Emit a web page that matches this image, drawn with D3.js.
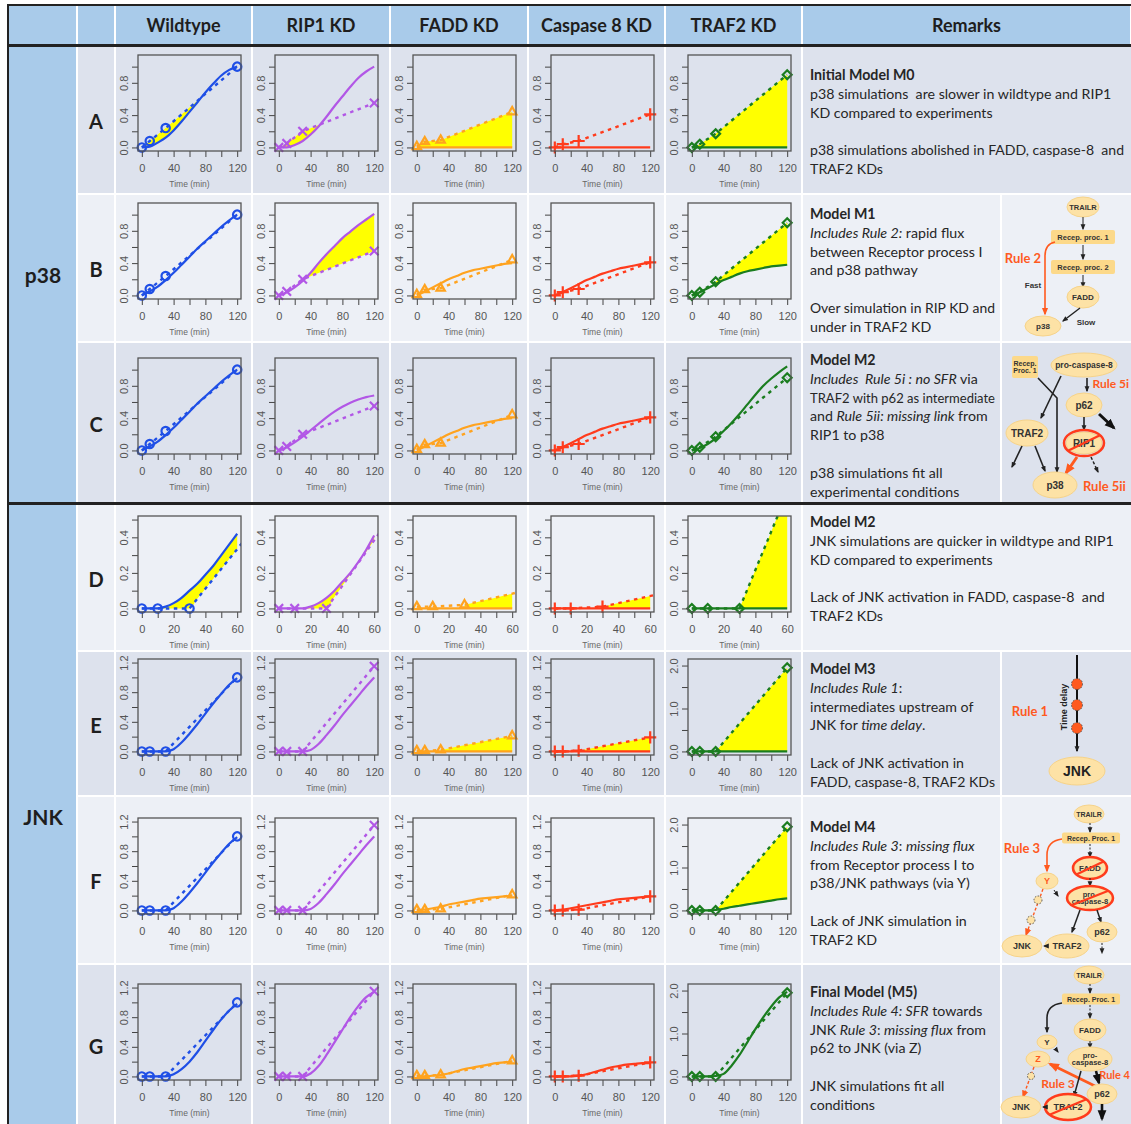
<!DOCTYPE html>
<html>
<head>
<meta charset="utf-8">
<script src="https://cdn.jsdelivr.net/npm/d3@7"></script>
<style>
  body { margin: 0; background: #fff; }
  svg text { font-family: Lato, "Open Sans", sans-serif; }
  .tick text, .tl { font-family: "Liberation Sans", Arial, sans-serif; }
</style>
</head>
<body>
<div id="chart"></div>
<script>
// ---- data ----
const conditions = ["Wildtype", "RIP1 KD", "FADD KD", "Caspase 8 KD", "TRAF2 KD"];
const rowLetters = ["A", "B", "C", "D", "E", "F", "G"];
const groups = ["p38", "JNK"];

const expTimes = [0, 10, 30, 120];
// p38 experiments (rows A-C)
const p38ExpWildtype = [0, 0.08, 0.24, 1.00];
const p38ExpRIP1 = [0, 0.05, 0.20, 0.55];
const p38ExpFADD = [0.01, 0.07, 0.09, 0.44];
const p38ExpCasp8 = [0, 0.04, 0.08, 0.41];
const p38ExpTRAF2 = [0, 0.04, 0.17, 0.90];
// JNK experiments (rows D-G)
const jnkExpWildtype = [0, 0, 0, 1.00];
const jnkExpRIP1 = [0, 0, 0, 1.15];
const jnkExpFADD = [0.01, 0.01, 0.02, 0.21];
const jnkExpCasp8 = [0, 0, 0.01, 0.19];
const jnkExpTRAF2 = [0, 0, 0, 1.95];

const simTimes = [0, 10, 20, 30, 40, 50, 60, 70, 80, 90, 100, 110, 120];
const simTimesEarly = [0, 5, 10, 15, 20, 25, 30, 35, 40, 45, 50, 55, 60];

// simulations: one array per condition (Wildtype, RIP1, FADD, Caspase 8, TRAF2)
const simRowA = [
  [0, 0.01, 0.06, 0.12, 0.21, 0.32, 0.44, 0.56, 0.68, 0.79, 0.89, 0.96, 1.00],
  [0, 0.00, 0.03, 0.08, 0.16, 0.26, 0.38, 0.51, 0.63, 0.75, 0.86, 0.94, 1.00],
  [0, 0, 0, 0, 0, 0, 0, 0, 0, 0, 0, 0, 0],
  [0, 0, 0, 0, 0, 0, 0, 0, 0, 0, 0, 0, 0],
  [0, 0, 0, 0, 0, 0, 0, 0, 0, 0, 0, 0, 0]
];
const simRowB = [
  [0, 0.05, 0.11, 0.19, 0.28, 0.38, 0.48, 0.58, 0.67, 0.76, 0.85, 0.93, 1.00],
  [0, 0.04, 0.10, 0.18, 0.28, 0.40, 0.51, 0.61, 0.71, 0.79, 0.87, 0.94, 1.01],
  [0, 0.05, 0.10, 0.15, 0.20, 0.24, 0.28, 0.31, 0.33, 0.35, 0.37, 0.39, 0.40],
  [0, 0.04, 0.09, 0.14, 0.19, 0.23, 0.27, 0.30, 0.33, 0.35, 0.37, 0.39, 0.41],
  [0, 0.04, 0.09, 0.14, 0.19, 0.23, 0.27, 0.30, 0.32, 0.34, 0.36, 0.37, 0.38]
];
const simRowC = [
  [0, 0.05, 0.11, 0.19, 0.28, 0.38, 0.48, 0.58, 0.67, 0.76, 0.85, 0.93, 1.00],
  [0, 0.04, 0.10, 0.17, 0.25, 0.33, 0.41, 0.48, 0.54, 0.59, 0.63, 0.66, 0.68],
  [0, 0.05, 0.10, 0.15, 0.20, 0.24, 0.28, 0.31, 0.33, 0.35, 0.37, 0.39, 0.40],
  [0, 0.04, 0.09, 0.14, 0.19, 0.23, 0.27, 0.30, 0.33, 0.35, 0.37, 0.39, 0.41],
  [0, 0.03, 0.08, 0.15, 0.24, 0.34, 0.45, 0.57, 0.69, 0.80, 0.89, 0.97, 1.04]
];
const simRowD = [
  [0, 0, 0, 0.01, 0.03, 0.06, 0.10, 0.14, 0.19, 0.24, 0.30, 0.36, 0.42],
  [0, 0, 0, 0, 0.01, 0.03, 0.06, 0.10, 0.15, 0.20, 0.26, 0.33, 0.41],
  [0, 0, 0, 0, 0, 0, 0, 0, 0, 0, 0, 0, 0],
  [0, 0, 0, 0, 0, 0, 0, 0, 0, 0, 0, 0, 0],
  [0, 0, 0, 0, 0, 0, 0, 0, 0, 0, 0, 0, 0]
];
const simRowE = [
  [0, 0, 0, 0, 0.03, 0.12, 0.24, 0.37, 0.51, 0.65, 0.78, 0.90, 0.99],
  [0, 0, 0, 0, 0.02, 0.10, 0.22, 0.35, 0.49, 0.62, 0.75, 0.88, 1.00],
  [0, 0, 0, 0, 0, 0, 0, 0, 0, 0, 0, 0, 0],
  [0, 0, 0, 0, 0, 0, 0, 0, 0, 0, 0, 0, 0],
  [0, 0, 0, 0, 0, 0, 0, 0, 0, 0, 0, 0, 0]
];
const simRowF = [
  [0, 0, 0, 0, 0.03, 0.12, 0.24, 0.37, 0.51, 0.65, 0.78, 0.90, 0.99],
  [0, 0, 0, 0, 0.02, 0.10, 0.22, 0.35, 0.49, 0.62, 0.75, 0.88, 1.00],
  [0, 0.01, 0.03, 0.05, 0.08, 0.10, 0.12, 0.14, 0.16, 0.17, 0.18, 0.19, 0.20],
  [0, 0.01, 0.03, 0.05, 0.07, 0.09, 0.11, 0.13, 0.15, 0.16, 0.17, 0.18, 0.19],
  [0, 0, 0, 0.01, 0.04, 0.08, 0.11, 0.14, 0.17, 0.20, 0.23, 0.26, 0.28]
];
const simRowG = [
  [0, 0, 0, 0, 0.03, 0.10, 0.20, 0.33, 0.48, 0.63, 0.77, 0.89, 0.98],
  [0, 0, 0, 0, 0.04, 0.14, 0.29, 0.46, 0.63, 0.80, 0.95, 1.07, 1.14],
  [0, 0, 0.01, 0.02, 0.04, 0.07, 0.10, 0.12, 0.14, 0.16, 0.18, 0.19, 0.20],
  [0, 0, 0, 0.01, 0.03, 0.06, 0.09, 0.12, 0.14, 0.16, 0.17, 0.18, 0.18],
  [0, 0, 0, 0.01, 0.06, 0.25, 0.50, 0.80, 1.10, 1.38, 1.63, 1.84, 1.97]
];

// time windows where simulation and experiment differ (yellow)
const fillRowA = [[0, 80], [0, 50], [0, 120], null, [0, 120]];
const fillRowB = [null, [30, 120], null, null, [30, 120]];
const fillRowC = [null, null, null, null, null];
const fillRowD = [[10, 60], [15, 60], [30, 60], [30, 60], [30, 60]];
const fillRowE = [null, null, [30, 120], [30, 120], [30, 120]];
const fillRowF = [null, null, null, null, [30, 120]];
const fillRowG = [null, null, null, null, null];

// axes
const xTicks120 = [0, 20, 40, 60, 80, 100, 120];
const xLabels120 = [0, 40, 80, 120];
const xTicks60 = [0, 10, 20, 30, 40, 50, 60];
const xLabels60 = [0, 20, 40, 60];
const p38YTicks = [0, 0.2, 0.4, 0.6, 0.8, 1.0];
const p38YLabels = [0, 0.4, 0.8];
const earlyYTicks = [0, 0.1, 0.2, 0.3, 0.4, 0.5];
const earlyYLabels = [0, 0.2, 0.4];
const jnkYTicks = [0, 0.2, 0.4, 0.6, 0.8, 1.0, 1.2];
const jnkYLabels = [0, 0.4, 0.8, 1.2];
const traf2YTicks = [0, 0.5, 1.0, 1.5, 2.0];
const traf2YLabels = [0, 1.0, 2.0];

// remarks text: [text, style] segments per line
const remarksA = [
  [["Initial Model M0", "b"]],
  [["p38 simulations  are slower in wildtype and RIP1", ""]],
  [["KD compared to experiments", ""]],
  [],
  [["p38 simulations abolished in FADD, caspase-8  and", ""]],
  [["TRAF2 KDs", ""]]
];
const remarksB = [
  [["Model M1", "b"]],
  [["Includes Rule 2:", "i"], [" rapid flux", ""]],
  [["between Receptor process I", ""]],
  [["and p38 pathway", ""]],
  [],
  [["Over simulation in RIP KD and", ""]],
  [["under in TRAF2 KD", ""]]
];
const remarksC = [
  [["Model M2", "b"]],
  [["Includes  Rule 5i : no SFR", "i"], [" via", ""]],
  [["TRAF2 with p62 as intermediate", ""]],
  [["and ", ""], ["Rule 5ii: missing link", "i"], [" from", ""]],
  [["RIP1 to p38", ""]],
  [],
  [["p38 simulations fit all", ""]],
  [["experimental conditions", ""]]
];
const remarksD = [
  [["Model M2", "b"]],
  [["JNK simulations are quicker in wildtype and RIP1", ""]],
  [["KD compared to experiments", ""]],
  [],
  [["Lack of JNK activation in FADD, caspase-8  and", ""]],
  [["TRAF2 KDs", ""]]
];
const remarksE = [
  [["Model M3", "b"]],
  [["Includes Rule 1", "i"], [":", ""]],
  [["intermediates upstream of", ""]],
  [["JNK for ", ""], ["time delay", "i"], [".", ""]],
  [],
  [["Lack of JNK activation in", ""]],
  [["FADD, caspase-8, TRAF2 KDs", ""]]
];
const remarksF = [
  [["Model M4", "b"]],
  [["Includes Rule 3", "i"], [": ", ""], ["missing flux", "i"]],
  [["from Receptor process I to", ""]],
  [["p38/JNK pathways (via Y)", ""]],
  [],
  [["Lack of JNK simulation in", ""]],
  [["TRAF2 KD", ""]]
];
const remarksG = [
  [["Final Model (M5)", "b"]],
  [["Includes Rule 4: SFR", "i"], [" towards", ""]],
  [["JNK ", ""], ["Rule 3", "i"], [": ", ""], ["missing flux", "i"], [" from", ""]],
  [["p62 to JNK (via Z)", ""]],
  [],
  [["JNK simulations fit all", ""]],
  [["conditions", ""]]
];

// ---- layout ----
const W = 1131, H = 1124;
const colEdges = [8, 77, 115, 252, 390, 528, 665, 802, 1131];
const rowBands = [[47, 193], [195, 341], [343, 502], [505, 650], [652, 795], [797, 963], [965, 1124]];
const boxTops = [55, 203, 358, 516, 659, 818, 984];
const boxW = 103, boxH = 96;
const remarkStart = [75, 214, 360, 522, 669, 827, 992];
const hasDiagram = [false, true, true, false, true, true, true];
const darkBg = "#dde2ed", lightBg = "#edf0f6", blueBg = "#a9cbea";
const rowBg = [darkBg, lightBg, darkBg, lightBg, darkBg, lightBg, darkBg];
const colors = ["#1f4fe6", "#b257e6", "#ffa31f", "#ff3b1c", "#1a7d1f"];
const symbols = [d3.symbolCircle, d3.symbolTimes, d3.symbolTriangle2, d3.symbolPlus, d3.symbolDiamond2];

const p38Exp = [p38ExpWildtype, p38ExpRIP1, p38ExpFADD, p38ExpCasp8, p38ExpTRAF2];
const jnkExp = [jnkExpWildtype, jnkExpRIP1, jnkExpFADD, jnkExpCasp8, jnkExpTRAF2];
const rowExp = [p38Exp, p38Exp, p38Exp, jnkExp, jnkExp, jnkExp, jnkExp];
const rowSims = [simRowA, simRowB, simRowC, simRowD, simRowE, simRowF, simRowG];
const rowFills = [fillRowA, fillRowB, fillRowC, fillRowD, fillRowE, fillRowF, fillRowG];
const rowRemarks = [remarksA, remarksB, remarksC, remarksD, remarksE, remarksF, remarksG];

const svg = d3.select("#chart").append("svg")
  .attr("width", W).attr("height", H);

const defs = svg.append("defs");
function addMarker(id, color, size) {
  defs.append("marker").attr("id", id)
    .attr("viewBox", "0 0 10 10").attr("refX", 8).attr("refY", 5)
    .attr("markerWidth", size).attr("markerHeight", size)
    .attr("markerUnits", "userSpaceOnUse").attr("orient", "auto")
    .append("path").attr("d", "M0,1 L10,5 L0,9 z").attr("fill", color);
}
addMarker("ak", "#222", 6);
addMarker("akb", "#111", 11);
addMarker("ao", "#ff5a1f", 8);
addMarker("aob", "#ff5a1f", 11);

// ---- table background ----
const bg = svg.append("g");
function cell(x0, x1, y0, y1, fill) {
  bg.append("rect").attr("x", x0 + 1).attr("y", y0)
    .attr("width", x1 - x0 - 2).attr("height", y1 - y0).attr("fill", fill);
}
// header
for (let i = 0; i < colEdges.length - 1; i++) cell(colEdges[i], colEdges[i + 1], 6, 44, blueBg);
// group column
cell(colEdges[0], colEdges[1], 47, 502, blueBg);
cell(colEdges[0], colEdges[1], 505, 1124, blueBg);
rowBands.forEach((b, ri) => {
  for (let i = 1; i < 7; i++) cell(colEdges[i], colEdges[i + 1], b[0], b[1], rowBg[ri]);
  if (hasDiagram[ri]) {
    cell(802, 1001, b[0], b[1], rowBg[ri]);
    cell(1001, 1140, b[0], b[1], rowBg[ri]);
  } else {
    cell(802, 1140, b[0], b[1], rowBg[ri]);
  }
});
// black rules
bg.append("rect").attr("x", 7).attr("y", 4).attr("width", W).attr("height", 2).attr("fill", "#222");
bg.append("rect").attr("x", 7).attr("y", 4).attr("width", 2).attr("height", H).attr("fill", "#222");
bg.append("rect").attr("x", 7).attr("y", 44).attr("width", W).attr("height", 3).attr("fill", "#222");
bg.append("rect").attr("x", 7).attr("y", 502).attr("width", W).attr("height", 3).attr("fill", "#222");

// header text
conditions.concat(["Remarks"]).forEach((c, i) => {
  svg.append("text")
    .attr("x", (colEdges[i + 2] + colEdges[i + 3]) / 2).attr("y", 26).attr("dy", "0.35em")
    .attr("text-anchor", "middle").attr("font-size", 18).attr("font-weight", 700)
    .attr("fill", "#1e1e1e").text(c);
});
// group + row labels
svg.append("text").attr("x", 43).attr("y", 276).attr("dy", "0.35em")
  .attr("text-anchor", "middle").attr("font-size", 21).attr("font-weight", 700)
  .attr("fill", "#1e1e1e").text(groups[0]);
svg.append("text").attr("x", 43).attr("y", 818).attr("dy", "0.35em")
  .attr("text-anchor", "middle").attr("font-size", 21).attr("font-weight", 700)
  .attr("fill", "#1e1e1e").text(groups[1]);
rowLetters.forEach((l, ri) => {
  svg.append("text").attr("x", 96).attr("y", (rowBands[ri][0] + rowBands[ri][1]) / 2 + 2)
    .attr("dy", "0.35em").attr("text-anchor", "middle").attr("font-size", 20)
    .attr("font-weight", 700).attr("fill", "#1e1e1e").text(l);
});

// ---- panels ----
function interp(ts, vs, t) {
  for (let i = 0; i < ts.length - 1; i++) {
    if (t >= ts[i] && t <= ts[i + 1]) {
      return vs[i] + (vs[i + 1] - vs[i]) * (t - ts[i]) / (ts[i + 1] - ts[i]);
    }
  }
  return vs[vs.length - 1];
}
const has = (arr, v) => arr.some(a => Math.abs(a - v) < 1e-9);

function drawPanel(ri, ci) {
  const early = ri === 3;
  const jnk = ri >= 4;
  const times = early ? simTimesEarly : simTimes;
  const xMax = early ? 60 : 120;
  let yTicks = p38YTicks, yLabels = p38YLabels, yMax = 1.1;
  if (early) { yTicks = earlyYTicks; yLabels = earlyYLabels; yMax = 0.5; }
  if (jnk) {
    if (ci === 4) { yTicks = traf2YTicks; yLabels = traf2YLabels; yMax = 2.07; }
    else { yTicks = jnkYTicks; yLabels = jnkYLabels; yMax = 1.2; }
  }
  const xTicks = early ? xTicks60 : xTicks120;
  const xLabels = early ? xLabels60 : xLabels120;

  const bx = colEdges[ci + 2] + 23, by = boxTops[ri];
  const x = d3.scaleLinear().domain([-0.04 * xMax, 1.04 * xMax]).range([0, boxW]);
  const y = d3.scaleLinear().domain([-0.04 * yMax, 1.04 * yMax]).range([boxH, 0]);
  const color = colors[ci];
  const sim = rowSims[ri][ci];
  const exp = rowExp[ri][ci];
  const fill = rowFills[ri][ci];

  const g = svg.append("g").attr("transform", `translate(${bx},${by})`);
  const clipId = `clip-${ri}-${ci}`;
  defs.append("clipPath").attr("id", clipId)
    .append("rect").attr("width", boxW).attr("height", boxH);
  const inner = g.append("g").attr("clip-path", `url(#${clipId})`);

  if (fill) {
    const pts = times.map((t, i) => ({ t, s: sim[i], e: interp(expTimes, exp, t) }))
      .filter(p => p.t >= fill[0] && p.t <= fill[1]);
    inner.append("path").datum(pts)
      .attr("d", d3.area().x(p => x(p.t)).y0(p => y(p.e)).y1(p => y(p.s)).curve(d3.curveMonotoneX))
      .attr("fill", "#ffff00");
  }
  // experiment (dashed)
  inner.append("path").datum(expTimes.map((t, i) => [t, exp[i]]))
    .attr("d", d3.line().x(d => x(d[0])).y(d => y(d[1])))
    .attr("fill", "none").attr("stroke", color).attr("stroke-width", 2.4)
    .attr("stroke-dasharray", "3.5,4.5");
  // simulation (solid)
  inner.append("path").datum(times.map((t, i) => [t, sim[i]]))
    .attr("d", d3.line().x(d => x(d[0])).y(d => y(d[1])).curve(d3.curveMonotoneX))
    .attr("fill", "none").attr("stroke", color).attr("stroke-width", 2.2);
  // markers
  g.selectAll(".pt").data(expTimes.map((t, i) => [t, exp[i]]).filter(d => d[0] <= xMax))
    .enter().append("path")
    .attr("transform", d => `translate(${x(d[0])},${y(d[1])})`)
    .attr("d", d3.symbol().type(symbols[ci]).size(ci === 0 ? 55 : 50))
    .attr("fill", "none").attr("stroke", color).attr("stroke-width", 2.2);

  // axes
  const ax = g.append("g").attr("transform", `translate(0,${boxH})`)
    .call(d3.axisBottom(x).tickValues(xTicks).tickSize(6).tickSizeOuter(0)
      .tickFormat(d => has(xLabels, d) ? d : ""));
  ax.select(".domain").remove();
  ax.selectAll("line").attr("stroke", "#444");
  ax.selectAll("text").attr("font-size", 11).attr("fill", "#555").attr("dy", "1.05em");

  const ay = g.append("g")
    .call(d3.axisLeft(y).tickValues(yTicks).tickSize(6).tickSizeOuter(0)
      .tickFormat(d => has(yLabels, d) ? d3.format(".1f")(d) : ""));
  ay.select(".domain").remove();
  ay.selectAll("line").attr("stroke", "#444");
  ay.selectAll("text").attr("font-size", 11).attr("fill", "#555")
    .attr("x", 0).attr("dy", 0).attr("text-anchor", "middle")
    .attr("transform", "translate(-10,0) rotate(-90)");

  g.append("rect").attr("width", boxW).attr("height", boxH)
    .attr("fill", "none").attr("stroke", "#555").attr("stroke-width", 1.3);

  g.append("text").attr("class", "tl").attr("x", boxW / 2).attr("y", boxH + 36)
    .attr("text-anchor", "middle").attr("font-size", 8.5).attr("fill", "#666")
    .text("Time (min)");
}

for (let ri = 0; ri < 7; ri++) {
  for (let ci = 0; ci < 5; ci++) drawPanel(ri, ci);
}

// ---- remarks ----
rowRemarks.forEach((lines, ri) => {
  const maxW = hasDiagram[ri] ? 185 : 314;
  lines.forEach((segs, li) => {
    if (!segs.length) return;
    const t = svg.append("text").attr("x", 810).attr("y", remarkStart[ri] + li * 18.8)
      .attr("dy", "0.35em").attr("font-size", 14.2).attr("fill", "#262626")
      .style("white-space", "pre");
    segs.forEach(s => {
      t.append("tspan").text(s[0])
        .attr("font-weight", s[1] === "b" ? 700 : 400)
        .attr("font-style", s[1] === "i" ? "italic" : "normal");
    });
    // keep each line inside its cell
    if (t.node().getComputedTextLength() > maxW) {
      t.attr("textLength", maxW).attr("lengthAdjust", "spacingAndGlyphs");
    }
  });
});

// ---- diagrams ----
const dg = svg.append("g");
const orange = "#ff5a1f", red = "#ff3b1c", nodeFill = "#fde2a6", boxFill = "#fcd98a";
function nodeText(cx, cy, lines, size, color) {
  const n = lines.length;
  lines.forEach((l, i) => {
    dg.append("text").attr("class", "tl").attr("x", cx)
      .attr("y", cy + (i - (n - 1) / 2) * size * 1.0).attr("dy", "0.36em")
      .attr("text-anchor", "middle").attr("font-size", size).attr("font-weight", 700)
      .attr("fill", color || "#333").text(l);
  });
}
function ell(cx, cy, rx, ry, lines, size, color) {
  dg.append("ellipse").attr("cx", cx).attr("cy", cy).attr("rx", rx).attr("ry", ry)
    .attr("fill", nodeFill).attr("stroke", "#f6d38a").attr("stroke-width", 1);
  nodeText(cx, cy, lines, size, color);
}
function rectNode(cx, cy, w, h, lines, size) {
  dg.append("rect").attr("x", cx - w / 2).attr("y", cy - h / 2).attr("width", w).attr("height", h)
    .attr("rx", 2).attr("fill", boxFill);
  nodeText(cx, cy, lines, size);
}
function arrow(d, color, width, marker, dash) {
  dg.append("path").attr("d", d).attr("fill", "none").attr("stroke", color)
    .attr("stroke-width", width).attr("stroke-dasharray", dash || null)
    .attr("marker-end", marker ? `url(#${marker})` : null);
}
function crossOut(cx, cy, rx, ry) {
  dg.append("ellipse").attr("cx", cx).attr("cy", cy).attr("rx", rx).attr("ry", ry)
    .attr("fill", "none").attr("stroke", red).attr("stroke-width", 2.5);
  dg.append("line").attr("x1", cx - rx * 0.8).attr("y1", cy + ry * 0.6)
    .attr("x2", cx + rx * 0.8).attr("y2", cy - ry * 0.6)
    .attr("stroke", red).attr("stroke-width", 2.2);
}
function delayDot(cx, cy, r, fill) {
  dg.append("circle").attr("cx", cx).attr("cy", cy).attr("r", r)
    .attr("fill", fill).attr("stroke", "#555").attr("stroke-width", 1)
    .attr("stroke-dasharray", "1.5,1.5");
}
function ruleText(x, y, text, anchor, size) {
  dg.append("text").attr("x", x).attr("y", y).attr("dy", "0.35em")
    .attr("text-anchor", anchor || "middle").attr("font-size", size || 13).attr("font-weight", 700)
    .attr("fill", orange).text(text);
}
function smallText(x, y, text) {
  dg.append("text").attr("class", "tl").attr("x", x).attr("y", y).attr("dy", "0.35em")
    .attr("text-anchor", "middle").attr("font-size", 8).attr("font-weight", 700)
    .attr("fill", "#333").text(text);
}

// Row B: Model M1
ell(1083, 207, 16, 10, ["TRAILR"], 7.5);
arrow("M1083,217 L1083,229", "#222", 1, "ak");
rectNode(1083, 237, 64, 14, ["Recep. proc. 1"], 7.5);
arrow("M1083,245 L1083,259", "#222", 1, "ak");
rectNode(1083, 267, 64, 14, ["Recep. proc. 2"], 7.5);
arrow("M1083,275 L1083,287", "#222", 1, "ak");
ell(1083, 297, 16, 11, ["FADD"], 8);
ell(1043, 326, 18, 10, ["p38"], 8);
arrow("M1055,242 Q1045,244 1045,256 L1045,314", orange, 1.6, "ao");
ruleText(1023, 258, "Rule 2");
smallText(1033, 285, "Fast");
arrow("M1080,308 L1063,321", "#222", 1.4, "ak");
smallText(1086, 322, "Slow");

// Row C: Model M2 (p38)
arrow("M1038,378 L1057,398 L1057,472", "#222", 1.6, "ak");
arrow("M1061,376 L1041,418", "#222", 1.6, "ak");
rectNode(1025, 367, 26, 22, ["Recep.", "Proc. 1"], 7);
ell(1084, 365, 33, 12, ["pro-caspase-8"], 8.5);
arrow("M1087,378 L1087,391", "#222", 1.6, "ak");
ruleText(1129, 384, "Rule 5i", "end", 12);
ell(1084, 405, 18, 12, ["p62"], 10);
arrow("M1084,417 L1084,430", "#222", 1.6, "ak");
arrow("M1099,414 L1114,428", "#111", 3, "akb");
ell(1084, 443, 18, 11, ["RIP1"], 10);
crossOut(1084, 443, 20, 13);
arrow("M1091,457 L1098,472", "#222", 1.5, "ak", "3,2");
arrow("M1077,457 L1066,473", orange, 3, "aob");
ell(1027, 433, 21, 13, ["TRAF2"], 10);
arrow("M1022,446 L1012,467", "#222", 1.6, "ak");
arrow("M1035,446 L1045,471", "#222", 1.6, "ak");
ell(1055, 485, 22, 13, ["p38"], 10);
ruleText(1083, 486, "Rule 5ii", "start");

// Row E: Model M3
arrow("M1077,655 L1077,751", "#111", 2, "ak");
[684, 705, 728].forEach(cy => delayDot(1077, cy, 5.5, orange));
dg.append("text").attr("class", "tl").attr("transform", "translate(1064,707) rotate(-90)")
  .attr("dy", "0.35em").attr("text-anchor", "middle").attr("font-size", 9).attr("font-weight", 700)
  .attr("fill", "#222").text("Time delay");
ruleText(1030, 711, "Rule 1");
ell(1077, 771, 28, 14, ["JNK"], 14, "#222");

// Row F: Model M4
ell(1089, 814, 15, 9, ["TRAILR"], 7);
arrow("M1090,823 L1090,832", "#222", 1, "ak", "2,1.5");
rectNode(1091, 838, 58, 11, ["Recep. Proc. 1"], 7);
arrow("M1090,844 L1090,857", "#222", 1, "ak", "2,1.5");
ell(1090, 868, 16, 10, ["FADD"], 8);
crossOut(1090, 868, 17, 11);
arrow("M1090,878 L1090,886", "#222", 1, "ak", "2,1.5");
ell(1090, 898, 22, 11, ["pro-", "caspase-8"], 7.5);
crossOut(1090, 898, 23, 12);
arrow("M1080,910 L1072,932", "#222", 1.5, "ak");
arrow("M1097,910 L1101,922", "#222", 1.5, "ak");
arrow("M1062,839 Q1047,841 1047,855 L1047,871", orange, 1.6, "ao");
ruleText(1022, 848, "Rule 3");
ell(1047, 881, 11, 8, ["Y"], 9, orange);
arrow("M1054,890 L1058,896", "#222", 1, "ak");
arrow("M1043,889 L1026,935", orange, 1.4, "ao", "3,2");
delayDot(1038, 900, 4, "#fde2a6");
delayDot(1031, 920, 4, "#fde2a6");
ell(1022, 946, 20, 11, ["JNK"], 9);
ell(1067, 946, 22, 12, ["TRAF2"], 9);
arrow("M1047,946 L1044,946", "#222", 1, "ak");
ell(1102, 932, 15, 10, ["p62"], 9);
arrow("M1102,943 L1102,953", "#222", 1, "ak", "2,1.5");

// Row G: Final Model M5
ell(1089, 975, 15, 9, ["TRAILR"], 7);
arrow("M1090,984 L1090,993", "#222", 1, "ak", "2,1.5");
rectNode(1091, 999, 58, 11, ["Recep. Proc. 1"], 7);
arrow("M1090,1005 L1090,1018", "#222", 1, "ak", "2,1.5");
ell(1090, 1030, 16, 11, ["FADD"], 8);
arrow("M1090,1041 L1090,1048", "#222", 1, "ak", "2,1.5");
ell(1090, 1059, 22, 12, ["pro-", "caspase-8"], 7.5);
arrow("M1062,1003 Q1047,1005 1047,1018 L1047,1032", "#222", 1.6, "ak");
ell(1047, 1042, 10, 7, ["Y"], 8);
arrow("M1055,1048 L1058,1052", "#222", 1, "ak");
ell(1038, 1059, 12, 8, ["Z"], 9, orange);
arrow("M1097,1087 L1050,1064", orange, 2.6, "aob");
ruleText(1058, 1084, "Rule 3", "middle", 12);
arrow("M1096,1071 L1099,1083", "#111", 2.6, "akb");
ruleText(1130, 1075, "Rule 4", "end", 11);
arrow("M1081,1071 L1074,1096", "#222", 1.5, "ak");
arrow("M1034,1067 L1023,1097", orange, 1.4, "ao", "3,2");
delayDot(1031, 1076, 3.5, "#fde2a6");
ell(1102, 1094, 15, 10, ["p62"], 9);
arrow("M1102,1104 L1102,1119", "#111", 2.6, "akb");
ell(1021, 1107, 20, 11, ["JNK"], 9);
ell(1068, 1107, 22, 12, ["TRAF2"], 9);
crossOut(1068, 1107, 23, 13);
arrow("M1045,1107 L1043,1107", "#222", 1, "ak");
</script>
</body>
</html>
